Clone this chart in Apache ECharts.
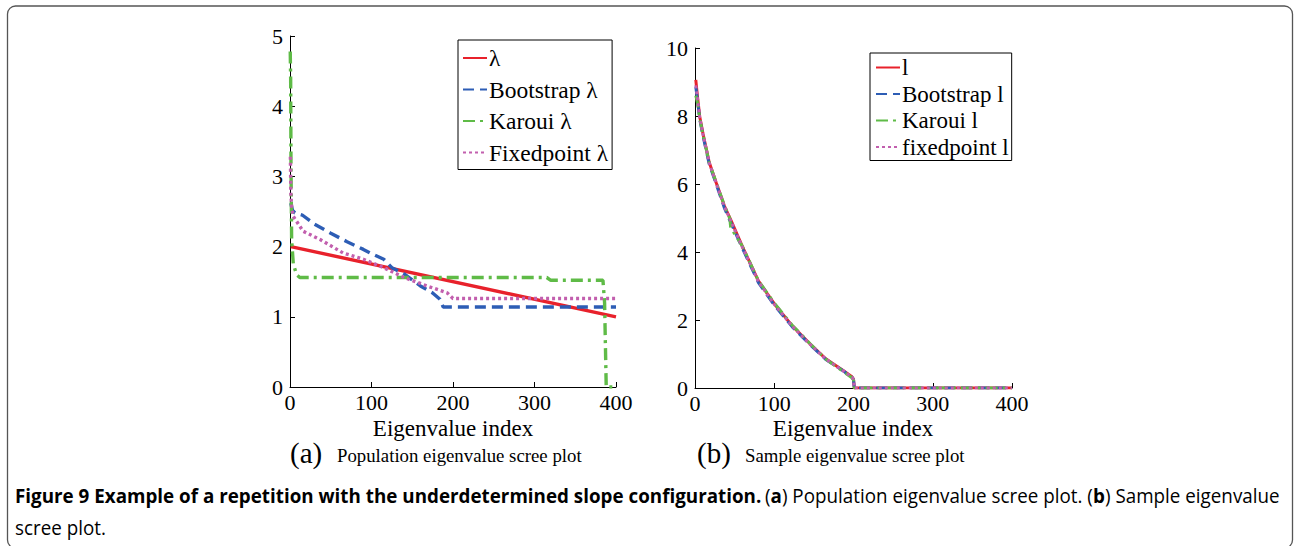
<!DOCTYPE html>
<html><head><meta charset="utf-8">
<script src="https://cdn.jsdelivr.net/npm/echarts@6/dist/echarts.min.js"></script>
<style>html,body{margin:0;padding:0;background:#fff}#c{width:1294px;height:546px}</style>
</head><body><div id="c"></div>
<script>
// ---------- data ----------
const xTicksInterval = 100;
const popNames = ['λ', 'Bootstrap λ', 'Karoui λ', 'Fixedpoint λ'];
const sampNames = ['l', 'Bootstrap l', 'Karoui l', 'fixedpoint l'];

// (a) population eigenvalues  [index, value]
const popLambda = [[1, 2.0], [400, 1.0]];
const popBootstrap = [[1, 2.62], [3, 2.52], [6, 2.48], [15, 2.45], [30, 2.32], [50, 2.19], [70, 2.07], [90, 1.96], [100, 1.9], [115, 1.82], [125, 1.7], [140, 1.61], [160, 1.44], [175, 1.34], [184, 1.25], [188, 1.14], [400, 1.14]];
const popKaroui = [[0.3, 4.78], [0.8, 4.4], [1.2, 3.2], [2, 2.1], [4, 1.76], [8, 1.6], [12, 1.56], [315, 1.56], [320, 1.52], [384, 1.52], [386, 1.2], [388, 0], [400, 0]];
const popFixedpoint = [[0.5, 3.28], [1, 2.76], [2, 2.57], [4, 2.43], [16, 2.22], [37, 2.1], [65, 1.91], [90, 1.82], [115, 1.7], [140, 1.56], [168, 1.44], [193, 1.34], [200, 1.26], [400, 1.26]];

// (b) sample eigenvalues  [index, value]
const sampL = [[1, 9.06], [3, 8.6], [6, 7.98], [10, 7.49], [18, 6.63], [27, 6.02], [37, 5.36], [46, 4.9], [60, 4.15], [80, 3.15], [100, 2.48], [123, 1.82], [145, 1.3], [165, 0.86], [186, 0.53], [198, 0.33], [200, 0.26], [201, 0], [400, 0]];
const sampBootstrap = [[1, 8.85], [3, 8.5], [6, 7.9], [10, 7.42], [18, 6.58], [27, 5.98], [37, 5.3], [46, 4.82], [60, 4.1], [80, 3.1], [100, 2.44], [123, 1.79], [145, 1.28], [165, 0.84], [186, 0.52], [198, 0.32], [200, 0.25], [201, 0], [400, 0]];
const sampKaroui = [[1, 8.6], [3, 8.4], [6, 7.92], [10, 7.46], [18, 6.62], [27, 6.03], [37, 5.38], [44, 4.98], [45, 4.72], [60, 4.16], [80, 3.16], [100, 2.5], [123, 1.84], [145, 1.31], [165, 0.85], [186, 0.5], [198, 0.3], [200, 0.24], [201, 0], [400, 0]];
const sampFixedpoint = [[1, 8.9], [3, 8.55], [6, 7.95], [10, 7.47], [18, 6.62], [27, 6.0], [37, 5.34], [46, 4.87], [60, 4.13], [80, 3.13], [100, 2.46], [123, 1.81], [145, 1.29], [165, 0.85], [186, 0.52], [198, 0.32], [200, 0.25], [201, 0], [400, 0]];

// ---------- styling ----------
const SERIF = '"Liberation Serif","Times New Roman",serif';
const SANS = '"Open Sans","Noto Sans",sans-serif';
const RED = '#e8212b', BLUE = '#2d5db5', GREEN = '#5fbb47', PINK = '#c25fae';
const colors = [RED, BLUE, GREEN, PINK];
const dashes = ['solid', [11, 6], [12, 5, 3, 5], [3, 3]];

function xAxis(gridIndex) {
  return {
    type: 'value', gridIndex, min: 0, max: 400, interval: xTicksInterval,
    axisLine: { lineStyle: { color: '#000', width: 1 } },
    axisTick: { inside: true, length: 5, lineStyle: { color: '#000' } },
    axisLabel: { color: '#000', fontFamily: SERIF, fontSize: 22, margin: 4 },
    splitLine: { show: false }
  };
}
function yAxis(gridIndex, max, interval) {
  return {
    type: 'value', gridIndex, min: 0, max, interval,
    axisLine: { show: true, lineStyle: { color: '#000', width: 1 } },
    axisTick: { show: true, inside: true, length: 5, lineStyle: { color: '#000' } },
    axisLabel: { color: '#000', fontFamily: SERIF, fontSize: 22, margin: 7 },
    splitLine: { show: false }
  };
}
function line(name, data, i, gi, w) {
  return {
    name, type: 'line', data, xAxisIndex: gi, yAxisIndex: gi,
    showSymbol: false, symbol: 'none', animation: false,
    lineStyle: { color: colors[i], width: w, type: dashes[i], cap: 'butt' },
    itemStyle: { color: colors[i] }
  };
}
function legend(names, left, top, padding, gap, fs) {
  return {
    data: names, orient: 'vertical', left, top, padding, itemGap: gap,
    itemWidth: 24, itemHeight: 14, backgroundColor: '#fff',
    borderColor: '#000', borderWidth: 1, borderRadius: 0,
    itemStyle: { opacity: 0 },
    textStyle: { color: '#000', fontFamily: SERIF, fontSize: fs, lineHeight: fs, padding: [0, 0, 0, -3] },
    selectedMode: false
  };
}

// caption scaling to fit the condensed original font
const capBold = 'Figure 9 Example of a repetition with the underdetermined slope configuration.';
const capFont = 20;
const cv = document.createElement('canvas').getContext('2d');
function mw(t, bold) { cv.font = (bold ? 'bold ' : '') + capFont + 'px "Open Sans"'; return cv.measureText(t).width; }
const line1W = mw(capBold + ' ', true) + mw('(', false) + mw('a', true) + mw(') Population eigenvalue scree plot. (', false) + mw('b', true) + mw(') Sample eigenvalue', false);
const capScale = 1266 / line1W;

const rich = {
  b: { fontFamily: SANS, fontWeight: 'bold', fontSize: capFont, color: '#231f20' },
  r: { fontFamily: SANS, fontSize: capFont, color: '#231f20' }
};

const chart = echarts.init(document.getElementById('c'), null, { renderer: 'svg', width: 1294, height: 546 });
chart.setOption({
  animation: false,
  backgroundColor: '#fff',
  grid: [
    { left: 290, right: 1294 - 616, top: 36, bottom: 546 - 387 },
    { left: 695, right: 1294 - 1012, top: 48, bottom: 546 - 388 }
  ],
  xAxis: [xAxis(0), xAxis(1)],
  yAxis: [yAxis(0, 5, 1), yAxis(1, 10, 2)],
  legend: [
    legend(popNames, 458, 40, [6, 4, 5, 4], 7.5, 23.5),
    legend(sampNames, 870, 53, [3, 3, 2, 5], 3.5, 23)
  ],
  series: [
    line(popNames[0], popLambda, 0, 0, 3.4),
    line(popNames[1], popBootstrap, 1, 0, 3.4),
    line(popNames[2], popKaroui, 2, 0, 3.4),
    line(popNames[3], popFixedpoint, 3, 0, 3.4),
    line(sampNames[0], sampL, 0, 1, 3),
    line(sampNames[1], sampBootstrap, 1, 1, 3),
    line(sampNames[2], sampKaroui, 2, 1, 3),
    line(sampNames[3], sampFixedpoint, 3, 1, 3)
  ],
  graphic: [
    { type: 'rect', silent: true, shape: { x: 7.5, y: 6, width: 1285, height: 542, r: 8 },
      style: { fill: 'none', stroke: '#555', lineWidth: 1.3 } },
    { type: 'text', x: 453, y: 428, style: { text: 'Eigenvalue index', font: '23px ' + SERIF, fill: '#000', textAlign: 'center', textVerticalAlign: 'middle' } },
    { type: 'text', x: 853, y: 428, style: { text: 'Eigenvalue index', font: '23px ' + SERIF, fill: '#000', textAlign: 'center', textVerticalAlign: 'middle' } },
    { type: 'text', x: 290, y: 453, style: { text: '(a)', font: '29px ' + SERIF, fill: '#000', textAlign: 'left', textVerticalAlign: 'middle' } },
    { type: 'text', x: 337, y: 455, style: { text: 'Population eigenvalue scree plot', font: '18.8px ' + SERIF, fill: '#000', textAlign: 'left', textVerticalAlign: 'middle' } },
    { type: 'text', x: 697, y: 453, style: { text: '(b)', font: '29px ' + SERIF, fill: '#000', textAlign: 'left', textVerticalAlign: 'middle' } },
    { type: 'text', x: 745, y: 455, style: { text: 'Sample eigenvalue scree plot', font: '18.8px ' + SERIF, fill: '#000', textAlign: 'left', textVerticalAlign: 'middle' } },
    { type: 'text', x: 15, y: 495, scaleX: capScale, style: {
        text: '{b|' + capBold + '} {r|(}{b|a}{r|) Population eigenvalue scree plot. (}{b|b}{r|) Sample eigenvalue}',
        rich, textAlign: 'left', textVerticalAlign: 'middle' } },
    { type: 'text', x: 15, y: 527, scaleX: capScale, style: {
        text: '{r|scree plot.}', rich, textAlign: 'left', textVerticalAlign: 'middle' } }
  ]
});
</script>
</body></html>
